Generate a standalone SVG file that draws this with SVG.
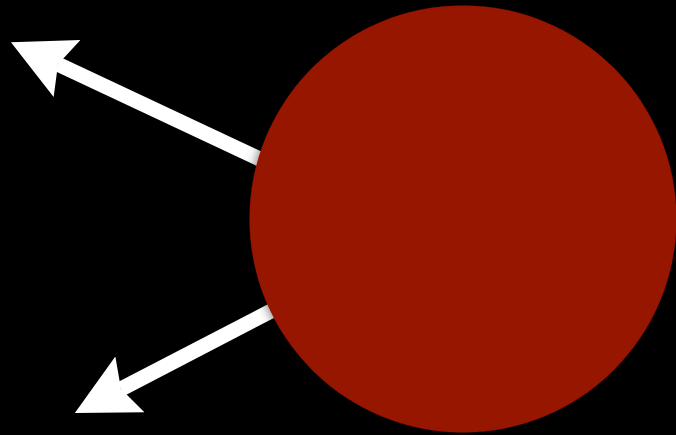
<svg xmlns="http://www.w3.org/2000/svg" width="676" height="435" viewBox="0 0 676 435">
  <defs>
    <marker id="head" markerUnits="userSpaceOnUse" markerWidth="64" markerHeight="66" viewBox="0 -33 64 66" refX="10" refY="0" orient="auto">
      <path d="M62,0 L0,-31.5 L10,0 L0,31.5 Z" fill="#ffffff"/>
    </marker>
    <filter id="shadow" x="-20%" y="-20%" width="140%" height="140%">
      <feGaussianBlur in="SourceAlpha" stdDeviation="6"/>
      <feOffset dx="0" dy="0" result="b"/>
      <feComponentTransfer><feFuncA type="linear" slope="0.6"/></feComponentTransfer>
      <feMerge><feMergeNode/><feMergeNode in="SourceGraphic"/></feMerge>
    </filter>
    <style>
      .arrow { stroke: #ffffff; stroke-width: 15; fill: none; marker-end: url(#head); }
    </style>
  </defs>
  <rect x="0" y="0" width="676" height="435" fill="#000000"/>
  <g id="connectors">
    <line class="arrow" x1="300" y1="178" x2="58" y2="64.3"/>
    <line class="arrow" x1="300" y1="296" x2="121" y2="389"/>
  </g>
  <g id="node-circle">
    <circle cx="463" cy="219" r="213.5" fill="#961300" filter="url(#shadow)"/>
  </g>
</svg>
